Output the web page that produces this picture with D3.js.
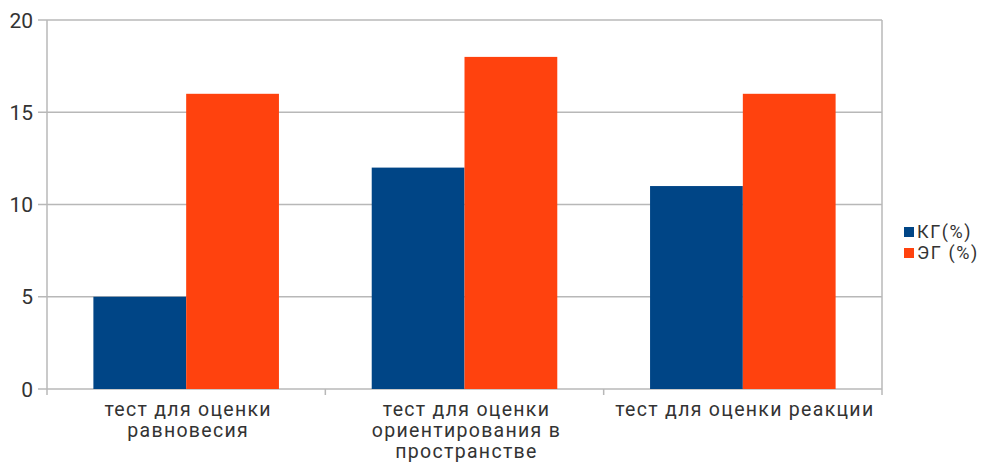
<!DOCTYPE html>
<html>
<head>
<meta charset="utf-8">
<script src="https://cdn.jsdelivr.net/npm/d3@7/dist/d3.min.js"></script>
<style>
  html, body { margin: 0; padding: 0; background: #fff; }
  svg { display: block; }
  text { font-family: Roboto, "Noto Sans", sans-serif; fill: #333; }
</style>
</head>
<body>
<svg id="chart" width="990" height="463"></svg>
<script>
// Test categories (multi-line labels) and group results in percent
const categories = [
  ["тест для оценки", "равновесия"],
  ["тест для оценки", "ориентирования в", "пространстве"],
  ["тест для оценки реакции"]
];
const seriesNames = ["КГ(%)", "ЭГ (%)"];
const kgValues = [5, 12, 11];
const egValues = [16, 18, 16];
const yTicks = [0, 5, 10, 15, 20];
const colors = ["#004586", "#ff420e"];

const svg = d3.select("#chart");
const plot = { left: 47, right: 882, top: 20, bottom: 389 };
const gridColor = "#b8b8b8";

const catKeys = categories.map((c, i) => i);
const x0 = d3.scaleBand().domain(catKeys).range([plot.left, plot.right]).paddingInner(0).paddingOuter(0);
const x1 = d3.scaleBand().domain([0, 1]).range([0, x0.bandwidth()]).paddingOuter(0.5);
const y = d3.scaleLinear().domain([0, 20]).range([plot.bottom, plot.top]);

// horizontal grid lines
svg.append("g")
  .selectAll("line")
  .data(yTicks)
  .join("line")
  .attr("x1", plot.left - 9)
  .attr("x2", plot.right)
  .attr("y1", d => y(d))
  .attr("y2", d => y(d))
  .attr("stroke", gridColor)
  .attr("stroke-width", 1.5);

// right border
svg.append("line")
  .attr("x1", plot.right).attr("x2", plot.right)
  .attr("y1", plot.top).attr("y2", plot.bottom)
  .attr("stroke", gridColor).attr("stroke-width", 1.5);

// bars
const rows = catKeys.map(i => [kgValues[i], egValues[i]]);
svg.append("g")
  .selectAll("g")
  .data(rows)
  .join("g")
  .attr("transform", (d, i) => `translate(${x0(i)},0)`)
  .selectAll("rect")
  .data(d => d)
  .join("rect")
  .attr("x", (d, j) => x1(j))
  .attr("width", x1.bandwidth())
  .attr("y", d => y(d))
  .attr("height", d => y(0) - y(d))
  .attr("fill", (d, j) => colors[j]);

// y axis line
svg.append("line")
  .attr("x1", plot.left).attr("x2", plot.left)
  .attr("y1", plot.top).attr("y2", plot.bottom + 6)
  .attr("stroke", gridColor).attr("stroke-width", 1.5);

// y tick labels
svg.append("g")
  .selectAll("text")
  .data(yTicks)
  .join("text")
  .attr("x", 33)
  .attr("y", d => y(d))
  .attr("dy", "0.36em")
  .attr("text-anchor", "end")
  .attr("font-size", 21)
  .text(d => d);

// x category ticks
svg.append("g")
  .selectAll("line")
  .data(catKeys.slice(1).concat([catKeys.length]))
  .join("line")
  .attr("x1", i => plot.left + i * x0.bandwidth())
  .attr("x2", i => plot.left + i * x0.bandwidth())
  .attr("y1", plot.bottom)
  .attr("y2", plot.bottom + 6)
  .attr("stroke", gridColor).attr("stroke-width", 1.5);

// x category labels
const lab = svg.append("g")
  .selectAll("text")
  .data(categories)
  .join("text")
  .attr("text-anchor", "middle")
  .attr("font-size", 19.5)
  .attr("letter-spacing", 1.3)
  .attr("x", (d, i) => x0(i) + x0.bandwidth() / 2 + 2)
  .attr("y", 416);
lab.selectAll("tspan")
  .data(d => d)
  .join("tspan")
  .attr("x", function () { return d3.select(this.parentNode).attr("x"); })
  .attr("dy", (d, k) => k === 0 ? 0 : 21)
  .text(d => d);

// legend
const leg = svg.append("g")
  .selectAll("g")
  .data(seriesNames)
  .join("g")
  .attr("transform", (d, i) => `translate(904,${227 + i * 21})`);
leg.append("rect").attr("width", 10).attr("height", 10).attr("fill", (d, i) => colors[i]);
leg.append("text").attr("x", 13).attr("y", 5).attr("dy", "0.36em")
  .attr("font-size", 18).attr("letter-spacing", 1.6).text(d => d);
</script>
</body>
</html>
